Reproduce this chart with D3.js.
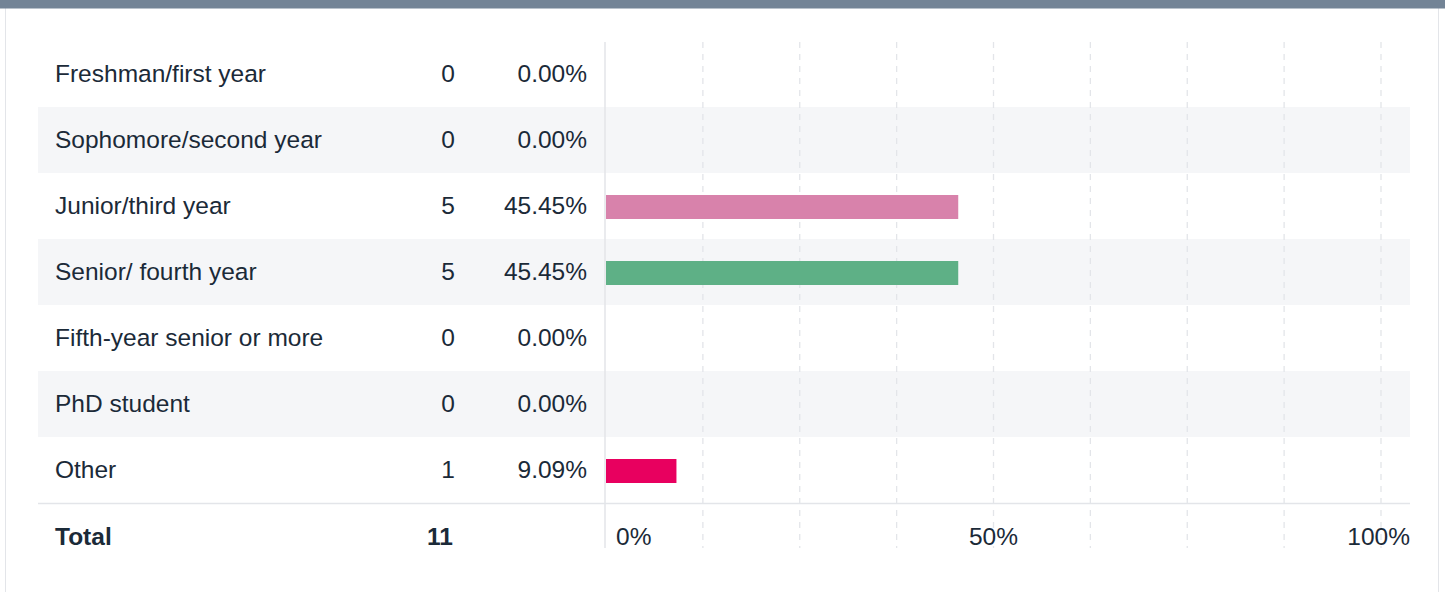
<!DOCTYPE html>
<html><head><meta charset="utf-8">
<script src="https://cdn.jsdelivr.net/npm/d3@7"></script>
<style>
html,body{margin:0;padding:0;background:#fff;}
svg{display:block;font-family:"Liberation Sans",Arial,Helvetica,sans-serif;}
</style></head>
<body>
<svg id="chart" width="1445" height="592"></svg>
<script>
const categories = ["Freshman/first year","Sophomore/second year","Junior/third year","Senior/ fourth year","Fifth-year senior or more","PhD student","Other"];
const counts = [0,0,5,5,0,0,1];
const percents = [0.00,0.00,45.45,45.45,0.00,0.00,9.09];
const barColors = ["#d882ab","#d882ab","#d882ab","#5eb086","#d882ab","#d882ab","#e8005f"];
const totalLabel = "Total";
const totalCount = 11;
const tickValues = [0,50,100];
const gridValues = [12.5,25,37.5,50,62.5,75,87.5,100];

(function(){
const svg = d3.select("#chart");
const textColor = "#1b2a38";

// card
svg.append("rect").attr("x",5.5).attr("y",0).attr("width",1433).attr("height",600)
  .attr("fill","#fff").attr("stroke","#e3e5e9").attr("stroke-width",1);
svg.append("rect").attr("x",0).attr("y",0).attr("width",1445).attr("height",8.5).attr("fill","#738496");

const rowH = 66, topY = 41;
const y = d3.scaleBand().domain(categories).range([topY, topY + rowH*categories.length]).padding(0);
const x = d3.scaleLinear().domain([0,100]).range([606,1381]);

// stripes
svg.selectAll("rect.stripe").data(categories.filter((d,i)=>i%2===1)).enter()
  .append("rect").attr("class","stripe")
  .attr("x",38).attr("width",1410-38)
  .attr("y",d=>y(d)).attr("height",y.bandwidth())
  .attr("fill","#f5f6f8");

// gridlines
svg.selectAll("line.grid").data(gridValues).enter().append("line")
  .attr("x1",d=>x(d)).attr("x2",d=>x(d)).attr("y1",42).attr("y2",548)
  .attr("stroke","#e3e5e9").attr("stroke-width",1.3).attr("stroke-dasharray","6,6");

// axis line
svg.append("line").attr("x1",605).attr("x2",605).attr("y1",42).attr("y2",548)
  .attr("stroke","#e3e5e9").attr("stroke-width",1.5);

// bottom rule
svg.append("line").attr("x1",38).attr("x2",1410).attr("y1",503.5).attr("y2",503.5)
  .attr("stroke","#e3e5e9").attr("stroke-width",1.5);

// bars
const barH = 24;
svg.selectAll("rect.bar").data(categories).enter().append("rect").attr("class","bar")
  .attr("x",x(0)).attr("y",d=>y(d)+y.bandwidth()/2-barH/2+1)
  .attr("width",(d,i)=>x(percents[i])-x(0)).attr("height",barH)
  .attr("fill",(d,i)=>barColors[i]);

// labels
const rowText = svg.append("g").attr("font-size",24.5).attr("fill",textColor);
const ty0 = d=>y(d)+y.bandwidth()/2-0.5;
rowText.selectAll("text.lab").data(categories).enter().append("text")
  .attr("x",55).attr("y",ty0).attr("dy","0.35em").text(d=>d);
rowText.selectAll("text.cnt").data(categories).enter().append("text")
  .attr("x",455).attr("text-anchor","end").attr("y",ty0).attr("dy","0.35em")
  .text((d,i)=>counts[i]);
rowText.selectAll("text.pct").data(categories).enter().append("text")
  .attr("x",587).attr("text-anchor","end").attr("y",ty0).attr("dy","0.35em")
  .text((d,i)=>percents[i].toFixed(2)+"%");

// total row
const ty = 536.5;
rowText.append("text").attr("x",55).attr("y",ty).attr("dy","0.35em").attr("font-weight","bold").text(totalLabel);
rowText.append("text").attr("x",453).attr("y",ty).attr("dy","0.35em").attr("text-anchor","end").attr("font-weight","bold").text(totalCount);

// tick labels
rowText.selectAll("text.tick").data(tickValues).enter().append("text")
  .attr("x",(d,i)=> i===0 ? x(d)+10 : (i===tickValues.length-1 ? 1410 : x(d)))
  .attr("text-anchor",(d,i)=> i===0 ? "start" : (i===tickValues.length-1 ? "end" : "middle"))
  .attr("y",ty).attr("dy","0.35em").text(d=>d+"%");
})();
</script>
</body></html>
